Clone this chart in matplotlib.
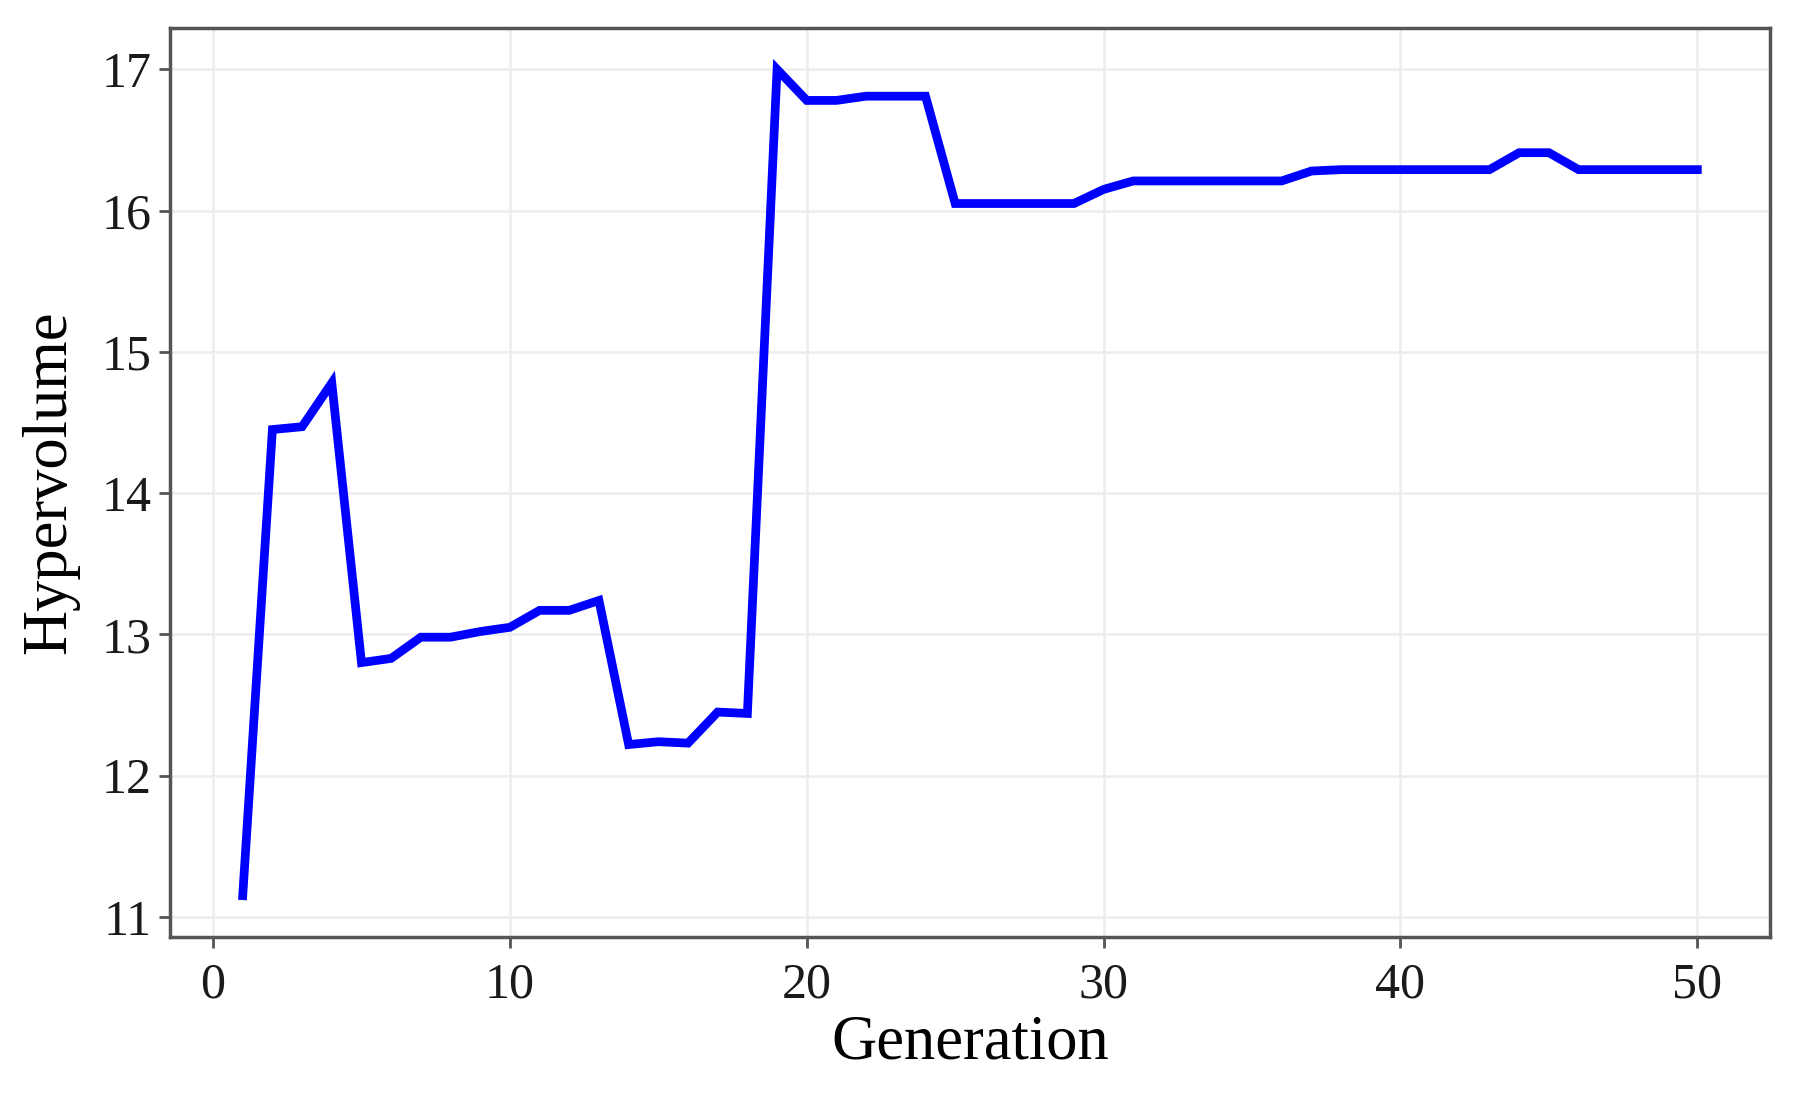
import matplotlib
matplotlib.use("Agg")
import matplotlib.pyplot as plt
import numpy as np

# hypervolume per generation
generation = list(range(1, 51))
hypervolume = [
    11.15, 14.45, 14.47, 14.78, 12.80, 12.83, 12.98, 12.98, 13.02, 13.05,
    13.17, 13.17, 13.24, 12.22, 12.24, 12.23, 12.45, 12.44, 17.00, 16.78,
    16.78, 16.81, 16.81, 16.81, 16.05, 16.05, 16.05, 16.05, 16.05, 16.15,
    16.21, 16.21, 16.21, 16.21, 16.21, 16.21, 16.28, 16.29, 16.29, 16.29,
    16.29, 16.29, 16.29, 16.41, 16.41, 16.29, 16.29, 16.29, 16.29, 16.29,
]
x_ticks = [0, 10, 20, 30, 40, 50]
y_ticks = [11, 12, 13, 14, 15, 16, 17]

plt.rcParams['font.family'] = ['Liberation Serif', 'DejaVu Serif']

fig = plt.figure(figsize=(17.97, 10.99), dpi=100)
ax = fig.add_axes([0.0946, 0.1474, 0.8904, 0.8271])

ax.plot(generation, hypervolume, color='#0000ff', linewidth=6.3, solid_joinstyle='miter')

# ggplot-like 5% expansion
xr = max(generation) - min(generation)
yr = max(hypervolume) - min(hypervolume)
ax.set_xlim(min(generation) - 0.05 * xr, max(generation) + 0.05 * xr)
ax.set_ylim(min(hypervolume) - 0.05 * yr, max(hypervolume) + 0.05 * yr)

ax.set_xticks(x_ticks)
ax.set_yticks(y_ticks)
ax.grid(True, color='#ededed', linewidth=1.8)
ax.set_axisbelow(True)

for s in ax.spines.values():
    s.set_color('#555555')
    s.set_linewidth(2.5)

ax.tick_params(axis='both', labelsize=36, colors='#555555', labelcolor='#1a1a1a',
               length=8, width=2)
ax.tick_params(axis='x', pad=10)
ax.tick_params(axis='y', pad=5)
ax.set_xlabel('Generation', fontsize=45, color='black', labelpad=4)
ax.set_ylabel('Hypervolume', fontsize=45, color='black', labelpad=16)

fig.savefig('out.png', dpi=100)
